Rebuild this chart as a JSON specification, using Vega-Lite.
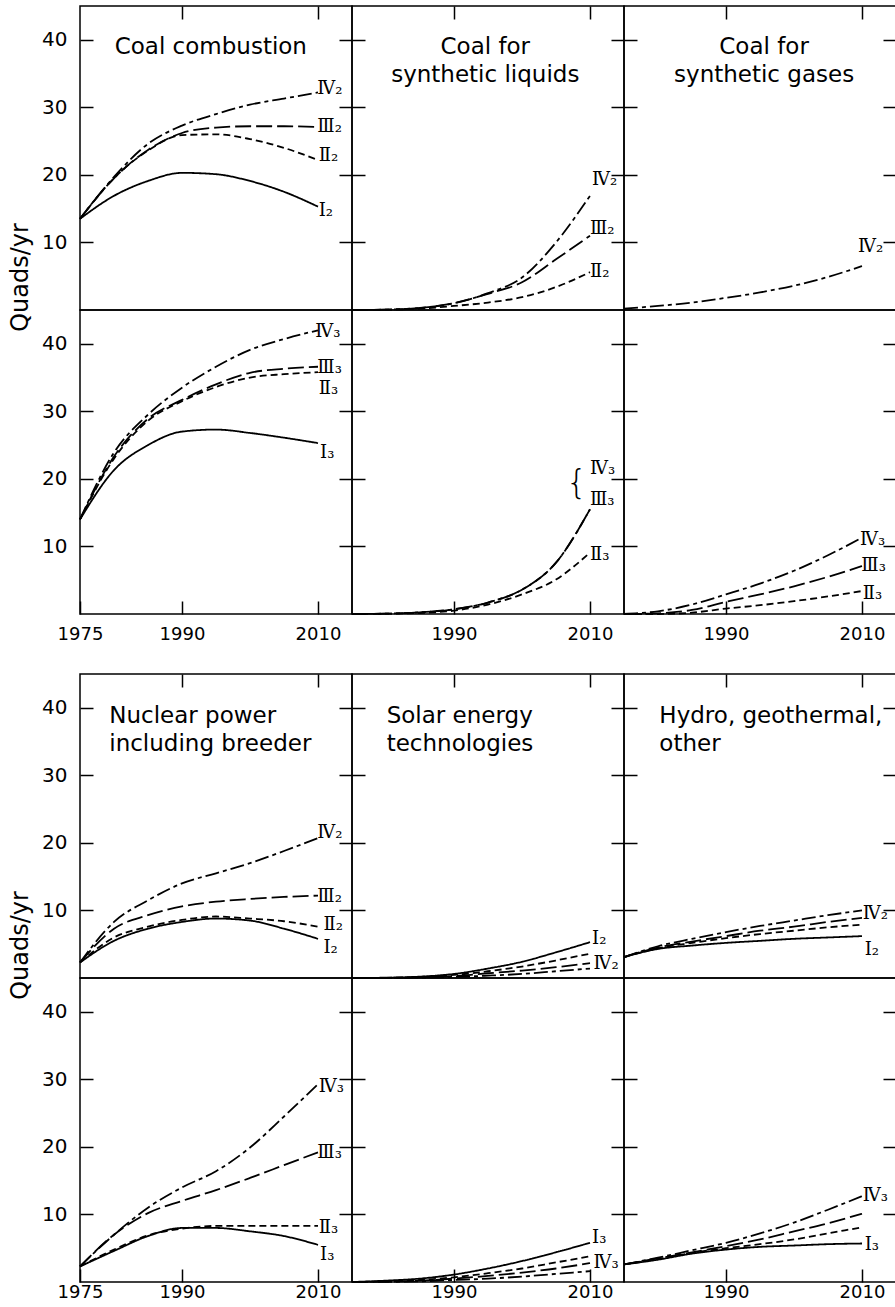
{
"$schema": "https://vega.github.io/schema/vega-lite/v6.json",
"padding": {"left": 7, "top": 4, "right": 0, "bottom": 0},
"config": {
 "font": "DejaVu Sans",
 "view": {"stroke": "black", "strokeWidth": 1.5},
 "axis": {"domain": false, "grid": false, "tickColor": "black", "tickWidth": 1.5, "tickSize": -13, "labelColor": "black", "labelFont": "DejaVu Sans", "labels": false, "title": null},
 "axisX": {"labelPadding": 24, "labelFontSize": 18, "labelFlush": false},
 "axisY": {"labelPadding": 26, "labelFontSize": 20},
 "line": {"interpolate": "monotone", "strokeWidth": 1.8, "color": "black"},
 "style": {
  "lab": {"align": "left", "baseline": "middle", "font": "DejaVu Serif", "fontSize": 18, "fill": "black"},
  "ttl": {"align": "left", "baseline": "alphabetic", "font": "DejaVu Sans", "fontSize": 23, "lineBreak": "\n", "lineHeight": 28, "fill": "black"},
  "ttc": {"align": "center", "baseline": "alphabetic", "font": "DejaVu Sans", "fontSize": 23, "lineBreak": "\n", "lineHeight": 28, "fill": "black"},
  "brc": {"align": "right", "baseline": "middle", "font": "DejaVu Sans", "fontSize": 34, "fontWeight": 200, "fill": "black"}
 }
},
"datasets": {"d": [
{"p":"cc","s":2,"c":"I","x":1975,"y":13.5},{"p":"cc","s":2,"c":"I","x":1980,"y":16.9},{"p":"cc","s":2,"c":"I","x":1985,"y":19.1},{"p":"cc","s":2,"c":"I","x":1990,"y":20.3},{"p":"cc","s":2,"c":"I","x":1995,"y":20.1},{"p":"cc","s":2,"c":"I","x":2000,"y":19.1},{"p":"cc","s":2,"c":"I","x":2005,"y":17.5},{"p":"cc","s":2,"c":"I","x":2010,"y":15.3},
{"p":"cc","s":2,"c":"II","x":1975,"y":13.5},{"p":"cc","s":2,"c":"II","x":1980,"y":19.5},{"p":"cc","s":2,"c":"II","x":1985,"y":23.6},{"p":"cc","s":2,"c":"II","x":1990,"y":25.9},{"p":"cc","s":2,"c":"II","x":1995,"y":26.0},{"p":"cc","s":2,"c":"II","x":2000,"y":25.3},{"p":"cc","s":2,"c":"II","x":2005,"y":24.0},{"p":"cc","s":2,"c":"II","x":2010,"y":22.2},
{"p":"cc","s":2,"c":"III","x":1975,"y":13.5},{"p":"cc","s":2,"c":"III","x":1980,"y":19.5},{"p":"cc","s":2,"c":"III","x":1985,"y":23.7},{"p":"cc","s":2,"c":"III","x":1990,"y":26.2},{"p":"cc","s":2,"c":"III","x":1995,"y":27.0},{"p":"cc","s":2,"c":"III","x":2000,"y":27.2},{"p":"cc","s":2,"c":"III","x":2005,"y":27.2},{"p":"cc","s":2,"c":"III","x":2010,"y":27.1},
{"p":"cc","s":2,"c":"IV","x":1975,"y":13.5},{"p":"cc","s":2,"c":"IV","x":1980,"y":19.7},{"p":"cc","s":2,"c":"IV","x":1985,"y":24.6},{"p":"cc","s":2,"c":"IV","x":1990,"y":27.3},{"p":"cc","s":2,"c":"IV","x":1995,"y":29.0},{"p":"cc","s":2,"c":"IV","x":2000,"y":30.4},{"p":"cc","s":2,"c":"IV","x":2005,"y":31.3},{"p":"cc","s":2,"c":"IV","x":2010,"y":32.2},
{"p":"cc","s":3,"c":"I","x":1975,"y":14},{"p":"cc","s":3,"c":"I","x":1980,"y":21.3},{"p":"cc","s":3,"c":"I","x":1985,"y":25.0},{"p":"cc","s":3,"c":"I","x":1990,"y":27.0},{"p":"cc","s":3,"c":"I","x":1995,"y":27.3},{"p":"cc","s":3,"c":"I","x":2000,"y":26.8},{"p":"cc","s":3,"c":"I","x":2005,"y":26.1},{"p":"cc","s":3,"c":"I","x":2010,"y":25.3},
{"p":"cc","s":3,"c":"II","x":1975,"y":14},{"p":"cc","s":3,"c":"II","x":1980,"y":23.0},{"p":"cc","s":3,"c":"II","x":1985,"y":28.6},{"p":"cc","s":3,"c":"II","x":1990,"y":31.5},{"p":"cc","s":3,"c":"II","x":1995,"y":33.6},{"p":"cc","s":3,"c":"II","x":2000,"y":35.0},{"p":"cc","s":3,"c":"II","x":2005,"y":35.5},{"p":"cc","s":3,"c":"II","x":2010,"y":35.8},
{"p":"cc","s":3,"c":"III","x":1975,"y":14},{"p":"cc","s":3,"c":"III","x":1980,"y":23.3},{"p":"cc","s":3,"c":"III","x":1985,"y":28.9},{"p":"cc","s":3,"c":"III","x":1990,"y":31.7},{"p":"cc","s":3,"c":"III","x":1995,"y":34.0},{"p":"cc","s":3,"c":"III","x":2000,"y":35.7},{"p":"cc","s":3,"c":"III","x":2005,"y":36.3},{"p":"cc","s":3,"c":"III","x":2010,"y":36.6},
{"p":"cc","s":3,"c":"IV","x":1975,"y":14},{"p":"cc","s":3,"c":"IV","x":1980,"y":23.9},{"p":"cc","s":3,"c":"IV","x":1985,"y":29.5},{"p":"cc","s":3,"c":"IV","x":1990,"y":33.5},{"p":"cc","s":3,"c":"IV","x":1995,"y":36.6},{"p":"cc","s":3,"c":"IV","x":2000,"y":39.1},{"p":"cc","s":3,"c":"IV","x":2005,"y":40.7},{"p":"cc","s":3,"c":"IV","x":2010,"y":42.0},
{"p":"sl","s":2,"c":"II","x":1975,"y":0},{"p":"sl","s":2,"c":"II","x":1980,"y":0.05},{"p":"sl","s":2,"c":"II","x":1985,"y":0.2},{"p":"sl","s":2,"c":"II","x":1990,"y":0.6},{"p":"sl","s":2,"c":"II","x":1995,"y":1.1},{"p":"sl","s":2,"c":"II","x":2000,"y":1.9},{"p":"sl","s":2,"c":"II","x":2005,"y":3.4},{"p":"sl","s":2,"c":"II","x":2010,"y":5.6},
{"p":"sl","s":2,"c":"III","x":1975,"y":0},{"p":"sl","s":2,"c":"III","x":1980,"y":0.05},{"p":"sl","s":2,"c":"III","x":1985,"y":0.3},{"p":"sl","s":2,"c":"III","x":1990,"y":1.0},{"p":"sl","s":2,"c":"III","x":1995,"y":2.4},{"p":"sl","s":2,"c":"III","x":2000,"y":4.1},{"p":"sl","s":2,"c":"III","x":2005,"y":7.5},{"p":"sl","s":2,"c":"III","x":2010,"y":11.0},
{"p":"sl","s":2,"c":"IV","x":1975,"y":0},{"p":"sl","s":2,"c":"IV","x":1980,"y":0.05},{"p":"sl","s":2,"c":"IV","x":1985,"y":0.3},{"p":"sl","s":2,"c":"IV","x":1990,"y":1.0},{"p":"sl","s":2,"c":"IV","x":1995,"y":2.5},{"p":"sl","s":2,"c":"IV","x":2000,"y":4.8},{"p":"sl","s":2,"c":"IV","x":2005,"y":10.0},{"p":"sl","s":2,"c":"IV","x":2010,"y":16.9},
{"p":"sl","s":3,"c":"II","x":1975,"y":0},{"p":"sl","s":3,"c":"II","x":1980,"y":0.05},{"p":"sl","s":3,"c":"II","x":1985,"y":0.15},{"p":"sl","s":3,"c":"II","x":1990,"y":0.5},{"p":"sl","s":3,"c":"II","x":1995,"y":1.4},{"p":"sl","s":3,"c":"II","x":2000,"y":2.9},{"p":"sl","s":3,"c":"II","x":2005,"y":5.1},{"p":"sl","s":3,"c":"II","x":2010,"y":9.1},
{"p":"sl","s":3,"c":"III","x":1975,"y":0},{"p":"sl","s":3,"c":"III","x":1980,"y":0.05},{"p":"sl","s":3,"c":"III","x":1985,"y":0.25},{"p":"sl","s":3,"c":"III","x":1990,"y":0.7},{"p":"sl","s":3,"c":"III","x":1995,"y":1.7},{"p":"sl","s":3,"c":"III","x":2000,"y":3.6},{"p":"sl","s":3,"c":"III","x":2005,"y":7.6},{"p":"sl","s":3,"c":"III","x":2010,"y":15.5},
{"p":"sl","s":3,"c":"IV","x":1975,"y":0},{"p":"sl","s":3,"c":"IV","x":1980,"y":0.05},{"p":"sl","s":3,"c":"IV","x":1985,"y":0.25},{"p":"sl","s":3,"c":"IV","x":1990,"y":0.7},{"p":"sl","s":3,"c":"IV","x":1995,"y":1.7},{"p":"sl","s":3,"c":"IV","x":2000,"y":3.6},{"p":"sl","s":3,"c":"IV","x":2005,"y":7.6},{"p":"sl","s":3,"c":"IV","x":2010,"y":15.5},
{"p":"sg","s":2,"c":"IV","x":1975,"y":0.2},{"p":"sg","s":2,"c":"IV","x":1980,"y":0.6},{"p":"sg","s":2,"c":"IV","x":1985,"y":1.1},{"p":"sg","s":2,"c":"IV","x":1990,"y":1.8},{"p":"sg","s":2,"c":"IV","x":1995,"y":2.6},{"p":"sg","s":2,"c":"IV","x":2000,"y":3.6},{"p":"sg","s":2,"c":"IV","x":2005,"y":4.9},{"p":"sg","s":2,"c":"IV","x":2010,"y":6.5},
{"p":"sg","s":3,"c":"II","x":1975,"y":0},{"p":"sg","s":3,"c":"II","x":1980,"y":0},{"p":"sg","s":3,"c":"II","x":1985,"y":0.2},{"p":"sg","s":3,"c":"II","x":1990,"y":0.8},{"p":"sg","s":3,"c":"II","x":1995,"y":1.3},{"p":"sg","s":3,"c":"II","x":2000,"y":1.9},{"p":"sg","s":3,"c":"II","x":2005,"y":2.6},{"p":"sg","s":3,"c":"II","x":2010,"y":3.4},
{"p":"sg","s":3,"c":"III","x":1975,"y":0},{"p":"sg","s":3,"c":"III","x":1980,"y":0.1},{"p":"sg","s":3,"c":"III","x":1985,"y":0.6},{"p":"sg","s":3,"c":"III","x":1990,"y":1.8},{"p":"sg","s":3,"c":"III","x":1995,"y":2.9},{"p":"sg","s":3,"c":"III","x":2000,"y":4.1},{"p":"sg","s":3,"c":"III","x":2005,"y":5.5},{"p":"sg","s":3,"c":"III","x":2010,"y":7.1},
{"p":"sg","s":3,"c":"IV","x":1975,"y":0},{"p":"sg","s":3,"c":"IV","x":1980,"y":0.4},{"p":"sg","s":3,"c":"IV","x":1985,"y":1.4},{"p":"sg","s":3,"c":"IV","x":1990,"y":2.9},{"p":"sg","s":3,"c":"IV","x":1995,"y":4.5},{"p":"sg","s":3,"c":"IV","x":2000,"y":6.4},{"p":"sg","s":3,"c":"IV","x":2005,"y":8.7},{"p":"sg","s":3,"c":"IV","x":2010,"y":11.3},
{"p":"nu","s":2,"c":"I","x":1975,"y":2.3},{"p":"nu","s":2,"c":"I","x":1980,"y":5.5},{"p":"nu","s":2,"c":"I","x":1985,"y":7.3},{"p":"nu","s":2,"c":"I","x":1990,"y":8.3},{"p":"nu","s":2,"c":"I","x":1995,"y":8.8},{"p":"nu","s":2,"c":"I","x":2000,"y":8.5},{"p":"nu","s":2,"c":"I","x":2005,"y":7.3},{"p":"nu","s":2,"c":"I","x":2010,"y":5.8},
{"p":"nu","s":2,"c":"II","x":1975,"y":2.3},{"p":"nu","s":2,"c":"II","x":1980,"y":6.0},{"p":"nu","s":2,"c":"II","x":1985,"y":7.6},{"p":"nu","s":2,"c":"II","x":1990,"y":8.6},{"p":"nu","s":2,"c":"II","x":1995,"y":9.1},{"p":"nu","s":2,"c":"II","x":2000,"y":8.8},{"p":"nu","s":2,"c":"II","x":2005,"y":8.4},{"p":"nu","s":2,"c":"II","x":2010,"y":7.6},
{"p":"nu","s":2,"c":"III","x":1975,"y":2.3},{"p":"nu","s":2,"c":"III","x":1980,"y":7.3},{"p":"nu","s":2,"c":"III","x":1985,"y":9.3},{"p":"nu","s":2,"c":"III","x":1990,"y":10.6},{"p":"nu","s":2,"c":"III","x":1995,"y":11.3},{"p":"nu","s":2,"c":"III","x":2000,"y":11.7},{"p":"nu","s":2,"c":"III","x":2005,"y":12.0},{"p":"nu","s":2,"c":"III","x":2010,"y":12.2},
{"p":"nu","s":2,"c":"IV","x":1975,"y":2.3},{"p":"nu","s":2,"c":"IV","x":1980,"y":8.3},{"p":"nu","s":2,"c":"IV","x":1985,"y":11.5},{"p":"nu","s":2,"c":"IV","x":1990,"y":14.0},{"p":"nu","s":2,"c":"IV","x":1995,"y":15.5},{"p":"nu","s":2,"c":"IV","x":2000,"y":17.0},{"p":"nu","s":2,"c":"IV","x":2005,"y":18.8},{"p":"nu","s":2,"c":"IV","x":2010,"y":20.7},
{"p":"nu","s":3,"c":"I","x":1975,"y":2.3},{"p":"nu","s":3,"c":"I","x":1980,"y":4.6},{"p":"nu","s":3,"c":"I","x":1985,"y":6.8},{"p":"nu","s":3,"c":"I","x":1990,"y":8.0},{"p":"nu","s":3,"c":"I","x":1995,"y":8.0},{"p":"nu","s":3,"c":"I","x":2000,"y":7.5},{"p":"nu","s":3,"c":"I","x":2005,"y":6.8},{"p":"nu","s":3,"c":"I","x":2010,"y":5.5},
{"p":"nu","s":3,"c":"II","x":1975,"y":2.3},{"p":"nu","s":3,"c":"II","x":1980,"y":4.8},{"p":"nu","s":3,"c":"II","x":1985,"y":6.9},{"p":"nu","s":3,"c":"II","x":1990,"y":7.9},{"p":"nu","s":3,"c":"II","x":1995,"y":8.3},{"p":"nu","s":3,"c":"II","x":2000,"y":8.3},{"p":"nu","s":3,"c":"II","x":2005,"y":8.3},{"p":"nu","s":3,"c":"II","x":2010,"y":8.3},
{"p":"nu","s":3,"c":"III","x":1975,"y":2.3},{"p":"nu","s":3,"c":"III","x":1980,"y":7.0},{"p":"nu","s":3,"c":"III","x":1985,"y":10.2},{"p":"nu","s":3,"c":"III","x":1990,"y":12.0},{"p":"nu","s":3,"c":"III","x":1995,"y":13.6},{"p":"nu","s":3,"c":"III","x":2000,"y":15.4},{"p":"nu","s":3,"c":"III","x":2005,"y":17.3},{"p":"nu","s":3,"c":"III","x":2010,"y":19.2},
{"p":"nu","s":3,"c":"IV","x":1975,"y":2.3},{"p":"nu","s":3,"c":"IV","x":1980,"y":7.0},{"p":"nu","s":3,"c":"IV","x":1985,"y":11.0},{"p":"nu","s":3,"c":"IV","x":1990,"y":14.0},{"p":"nu","s":3,"c":"IV","x":1995,"y":16.4},{"p":"nu","s":3,"c":"IV","x":2000,"y":19.9},{"p":"nu","s":3,"c":"IV","x":2005,"y":24.5},{"p":"nu","s":3,"c":"IV","x":2010,"y":29.3},
{"p":"so","s":2,"c":"I","x":1975,"y":0},{"p":"so","s":2,"c":"I","x":1980,"y":0.05},{"p":"so","s":2,"c":"I","x":1985,"y":0.2},{"p":"so","s":2,"c":"I","x":1990,"y":0.6},{"p":"so","s":2,"c":"I","x":1995,"y":1.4},{"p":"so","s":2,"c":"I","x":2000,"y":2.4},{"p":"so","s":2,"c":"I","x":2005,"y":3.8},{"p":"so","s":2,"c":"I","x":2010,"y":5.3},
{"p":"so","s":2,"c":"II","x":1975,"y":0},{"p":"so","s":2,"c":"II","x":1980,"y":0.03},{"p":"so","s":2,"c":"II","x":1985,"y":0.15},{"p":"so","s":2,"c":"II","x":1990,"y":0.45},{"p":"so","s":2,"c":"II","x":1995,"y":1.0},{"p":"so","s":2,"c":"II","x":2000,"y":1.7},{"p":"so","s":2,"c":"II","x":2005,"y":2.6},{"p":"so","s":2,"c":"II","x":2010,"y":3.6},
{"p":"so","s":2,"c":"III","x":1975,"y":0},{"p":"so","s":2,"c":"III","x":1980,"y":0.02},{"p":"so","s":2,"c":"III","x":1985,"y":0.1},{"p":"so","s":2,"c":"III","x":1990,"y":0.3},{"p":"so","s":2,"c":"III","x":1995,"y":0.7},{"p":"so","s":2,"c":"III","x":2000,"y":1.1},{"p":"so","s":2,"c":"III","x":2005,"y":1.6},{"p":"so","s":2,"c":"III","x":2010,"y":2.2},
{"p":"so","s":2,"c":"IV","x":1975,"y":0},{"p":"so","s":2,"c":"IV","x":1980,"y":0.01},{"p":"so","s":2,"c":"IV","x":1985,"y":0.05},{"p":"so","s":2,"c":"IV","x":1990,"y":0.15},{"p":"so","s":2,"c":"IV","x":1995,"y":0.35},{"p":"so","s":2,"c":"IV","x":2000,"y":0.6},{"p":"so","s":2,"c":"IV","x":2005,"y":1.0},{"p":"so","s":2,"c":"IV","x":2010,"y":1.4},
{"p":"so","s":3,"c":"I","x":1975,"y":0},{"p":"so","s":3,"c":"I","x":1980,"y":0.2},{"p":"so","s":3,"c":"I","x":1985,"y":0.5},{"p":"so","s":3,"c":"I","x":1990,"y":1.1},{"p":"so","s":3,"c":"I","x":1995,"y":2.0},{"p":"so","s":3,"c":"I","x":2000,"y":3.1},{"p":"so","s":3,"c":"I","x":2005,"y":4.4},{"p":"so","s":3,"c":"I","x":2010,"y":5.8},
{"p":"so","s":3,"c":"II","x":1975,"y":0},{"p":"so","s":3,"c":"II","x":1980,"y":0.1},{"p":"so","s":3,"c":"II","x":1985,"y":0.3},{"p":"so","s":3,"c":"II","x":1990,"y":0.7},{"p":"so","s":3,"c":"II","x":1995,"y":1.3},{"p":"so","s":3,"c":"II","x":2000,"y":2.0},{"p":"so","s":3,"c":"II","x":2005,"y":2.9},{"p":"so","s":3,"c":"II","x":2010,"y":3.8},
{"p":"so","s":3,"c":"III","x":1975,"y":0},{"p":"so","s":3,"c":"III","x":1980,"y":0.05},{"p":"so","s":3,"c":"III","x":1985,"y":0.2},{"p":"so","s":3,"c":"III","x":1990,"y":0.5},{"p":"so","s":3,"c":"III","x":1995,"y":0.9},{"p":"so","s":3,"c":"III","x":2000,"y":1.4},{"p":"so","s":3,"c":"III","x":2005,"y":2.0},{"p":"so","s":3,"c":"III","x":2010,"y":2.8},
{"p":"so","s":3,"c":"IV","x":1975,"y":0},{"p":"so","s":3,"c":"IV","x":1980,"y":0.02},{"p":"so","s":3,"c":"IV","x":1985,"y":0.1},{"p":"so","s":3,"c":"IV","x":1990,"y":0.3},{"p":"so","s":3,"c":"IV","x":1995,"y":0.5},{"p":"so","s":3,"c":"IV","x":2000,"y":0.8},{"p":"so","s":3,"c":"IV","x":2005,"y":1.2},{"p":"so","s":3,"c":"IV","x":2010,"y":1.6},
{"p":"hy","s":2,"c":"I","x":1975,"y":3.1},{"p":"hy","s":2,"c":"I","x":1980,"y":4.3},{"p":"hy","s":2,"c":"I","x":1985,"y":4.8},{"p":"hy","s":2,"c":"I","x":1990,"y":5.2},{"p":"hy","s":2,"c":"I","x":1995,"y":5.5},{"p":"hy","s":2,"c":"I","x":2000,"y":5.8},{"p":"hy","s":2,"c":"I","x":2005,"y":6.0},{"p":"hy","s":2,"c":"I","x":2010,"y":6.2},
{"p":"hy","s":2,"c":"II","x":1975,"y":3.1},{"p":"hy","s":2,"c":"II","x":1980,"y":4.4},{"p":"hy","s":2,"c":"II","x":1985,"y":5.2},{"p":"hy","s":2,"c":"II","x":1990,"y":5.9},{"p":"hy","s":2,"c":"II","x":1995,"y":6.5},{"p":"hy","s":2,"c":"II","x":2000,"y":7.0},{"p":"hy","s":2,"c":"II","x":2005,"y":7.5},{"p":"hy","s":2,"c":"II","x":2010,"y":7.9},
{"p":"hy","s":2,"c":"III","x":1975,"y":3.1},{"p":"hy","s":2,"c":"III","x":1980,"y":4.5},{"p":"hy","s":2,"c":"III","x":1985,"y":5.4},{"p":"hy","s":2,"c":"III","x":1990,"y":6.2},{"p":"hy","s":2,"c":"III","x":1995,"y":7.0},{"p":"hy","s":2,"c":"III","x":2000,"y":7.6},{"p":"hy","s":2,"c":"III","x":2005,"y":8.3},{"p":"hy","s":2,"c":"III","x":2010,"y":8.9},
{"p":"hy","s":2,"c":"IV","x":1975,"y":3.1},{"p":"hy","s":2,"c":"IV","x":1980,"y":4.7},{"p":"hy","s":2,"c":"IV","x":1985,"y":5.8},{"p":"hy","s":2,"c":"IV","x":1990,"y":6.8},{"p":"hy","s":2,"c":"IV","x":1995,"y":7.7},{"p":"hy","s":2,"c":"IV","x":2000,"y":8.5},{"p":"hy","s":2,"c":"IV","x":2005,"y":9.3},{"p":"hy","s":2,"c":"IV","x":2010,"y":10.0},
{"p":"hy","s":3,"c":"I","x":1975,"y":2.6},{"p":"hy","s":3,"c":"I","x":1980,"y":3.3},{"p":"hy","s":3,"c":"I","x":1985,"y":4.2},{"p":"hy","s":3,"c":"I","x":1990,"y":4.8},{"p":"hy","s":3,"c":"I","x":1995,"y":5.2},{"p":"hy","s":3,"c":"I","x":2000,"y":5.4},{"p":"hy","s":3,"c":"I","x":2005,"y":5.6},{"p":"hy","s":3,"c":"I","x":2010,"y":5.7},
{"p":"hy","s":3,"c":"II","x":1975,"y":2.6},{"p":"hy","s":3,"c":"II","x":1980,"y":3.4},{"p":"hy","s":3,"c":"II","x":1985,"y":4.3},{"p":"hy","s":3,"c":"II","x":1990,"y":5.0},{"p":"hy","s":3,"c":"II","x":1995,"y":5.6},{"p":"hy","s":3,"c":"II","x":2000,"y":6.3},{"p":"hy","s":3,"c":"II","x":2005,"y":7.2},{"p":"hy","s":3,"c":"II","x":2010,"y":8.1},
{"p":"hy","s":3,"c":"III","x":1975,"y":2.6},{"p":"hy","s":3,"c":"III","x":1980,"y":3.5},{"p":"hy","s":3,"c":"III","x":1985,"y":4.4},{"p":"hy","s":3,"c":"III","x":1990,"y":5.3},{"p":"hy","s":3,"c":"III","x":1995,"y":6.3},{"p":"hy","s":3,"c":"III","x":2000,"y":7.5},{"p":"hy","s":3,"c":"III","x":2005,"y":8.7},{"p":"hy","s":3,"c":"III","x":2010,"y":10.1},
{"p":"hy","s":3,"c":"IV","x":1975,"y":2.6},{"p":"hy","s":3,"c":"IV","x":1980,"y":3.6},{"p":"hy","s":3,"c":"IV","x":1985,"y":4.7},{"p":"hy","s":3,"c":"IV","x":1990,"y":5.8},{"p":"hy","s":3,"c":"IV","x":1995,"y":7.2},{"p":"hy","s":3,"c":"IV","x":2000,"y":8.8},{"p":"hy","s":3,"c":"IV","x":2005,"y":10.7},{"p":"hy","s":3,"c":"IV","x":2010,"y":12.7},
{"p":"cc","s":2,"t":"Ⅳ₂","x":2009.9,"y":32.7},{"p":"cc","s":2,"t":"Ⅲ₂","x":2009.9,"y":27.1},{"p":"cc","s":2,"t":"Ⅱ₂","x":2010.1,"y":22.8},{"p":"cc","s":2,"t":"Ⅰ₂","x":2010.1,"y":14.7},
{"p":"cc","s":3,"t":"Ⅳ₃","x":2009.6,"y":41.8},{"p":"cc","s":3,"t":"Ⅲ₃","x":2009.9,"y":36.4},{"p":"cc","s":3,"t":"Ⅱ₃","x":2010.1,"y":33.3},{"p":"cc","s":3,"t":"Ⅰ₃","x":2010.3,"y":23.8},
{"p":"sl","s":2,"t":"Ⅳ₂","x":2010.3,"y":19.2},{"p":"sl","s":2,"t":"Ⅲ₂","x":2010.0,"y":12.0},{"p":"sl","s":2,"t":"Ⅱ₂","x":2010.0,"y":5.6},
{"p":"sl","s":3,"b":"{","x":2009.6,"y":19.2},{"p":"sl","s":3,"t":"Ⅳ₃","x":2010.0,"y":21.4},{"p":"sl","s":3,"t":"Ⅲ₃","x":2010.0,"y":16.9},{"p":"sl","s":3,"t":"Ⅱ₃","x":2010.0,"y":8.8},
{"p":"sg","s":2,"t":"Ⅳ₂","x":2009.4,"y":9.3},
{"p":"sg","s":3,"t":"Ⅳ₃","x":2009.7,"y":11.0},{"p":"sg","s":3,"t":"Ⅲ₃","x":2009.9,"y":7.1},{"p":"sg","s":3,"t":"Ⅱ₃","x":2010.1,"y":2.9},
{"p":"nu","s":2,"t":"Ⅳ₂","x":2009.9,"y":21.4},{"p":"nu","s":2,"t":"Ⅲ₂","x":2009.9,"y":12.0},{"p":"nu","s":2,"t":"Ⅱ₂","x":2010.8,"y":7.8},{"p":"nu","s":2,"t":"Ⅰ₂","x":2010.8,"y":4.5},
{"p":"nu","s":3,"t":"Ⅳ₃","x":2010.1,"y":28.8},{"p":"nu","s":3,"t":"Ⅲ₃","x":2009.9,"y":19.1},{"p":"nu","s":3,"t":"Ⅱ₃","x":2010.1,"y":8.0},{"p":"nu","s":3,"t":"Ⅰ₃","x":2010.3,"y":4.0},
{"p":"so","s":2,"t":"Ⅰ₂","x":2010.3,"y":5.8},{"p":"so","s":2,"t":"Ⅳ₂","x":2010.5,"y":2.1},
{"p":"so","s":3,"t":"Ⅰ₃","x":2010.3,"y":6.5},{"p":"so","s":3,"t":"Ⅳ₃","x":2010.5,"y":2.8},
{"p":"hy","s":2,"t":"Ⅳ₂","x":2010.1,"y":9.5},{"p":"hy","s":2,"t":"Ⅰ₂","x":2010.4,"y":4.1},
{"p":"hy","s":3,"t":"Ⅳ₃","x":2010.1,"y":12.7},{"p":"hy","s":3,"t":"Ⅰ₃","x":2010.4,"y":5.5},
{"p":"cc","s":2,"ti":"Coal combustion","x":1980.1,"y":37.9},
{"p":"sl","s":2,"ti":"Coal for\nsynthetic liquids","x":1994.6,"y":37.9},
{"p":"sg","s":2,"ti":"Coal for\nsynthetic gases","x":1995.6,"y":37.9},
{"p":"nu","s":2,"ti":"Nuclear power\nincluding breeder","x":1979.3,"y":37.7},
{"p":"so","s":2,"ti":"Solar energy\ntechnologies","x":1980.1,"y":37.7},
{"p":"hy","s":2,"ti":"Hydro, geothermal,\nother","x":1980.2,"y":37.7}
]},
"data": {"name": "d"},
"vconcat": [
{"columns": 3, "spacing": 0, "bounds": "flush", "concat": [
 {"width": 272, "height": 304, "transform": [{"filter": "datum.p=='cc'&&datum.s==2"}], "layer": [
  {"transform": [{"filter": "datum.c"}], "mark": "line", "encoding": {
   "x": {"field": "x", "type": "quantitative", "scale": {"domain": [1975, 2015], "nice": false}, "axis": {"orient": "top", "values": [1990, 2010]}},
   "y": {"field": "y", "type": "quantitative", "scale": {"domain": [0, 45], "nice": false}, "axis": {"orient": "left", "values": [10, 20, 30, 40], "labels": true, "title": "Quads/yr", "titleX": -60, "titleY": 271, "titleAngle": 270, "titleAlign": "center", "titleBaseline": "middle", "titleFont": "DejaVu Sans", "titleFontSize": 24, "titleFontWeight": "normal", "titleColor": "black"}},
   "strokeDash": {"field": "c", "type": "nominal", "scale": {"domain": ["I", "II", "III", "IV"], "range": [[1, 0], [7, 4], [16, 5], [14, 4, 4, 4]]}, "legend": null}}},
  {"transform": [{"filter": "datum.t"}], "mark": {"type": "text", "style": "lab"}, "encoding": {"x": {"field": "x", "type": "quantitative", "axis": null}, "y": {"field": "y", "type": "quantitative", "axis": {"orient": "right", "values": [10, 20, 30, 40]}}, "text": {"field": "t"}}},
  {"transform": [{"filter": "datum.ti"}], "mark": {"type": "text", "style": "ttl"}, "encoding": {"x": {"field": "x", "type": "quantitative", "axis": null}, "y": {"field": "y", "type": "quantitative", "axis": null}, "text": {"field": "ti"}}}
 ], "resolve": {"axis": {"x": "independent", "y": "independent"}}},
 {"width": 272, "height": 304, "transform": [{"filter": "datum.p=='sl'&&datum.s==2"}], "layer": [
  {"transform": [{"filter": "datum.c"}], "mark": "line", "encoding": {
   "x": {"field": "x", "type": "quantitative", "scale": {"domain": [1975, 2015], "nice": false}, "axis": {"orient": "top", "values": [1990, 2010]}},
   "y": {"field": "y", "type": "quantitative", "scale": {"domain": [0, 45], "nice": false}, "axis": {"orient": "left", "values": [10, 20, 30, 40]}},
   "strokeDash": {"field": "c", "type": "nominal", "scale": {"domain": ["I", "II", "III", "IV"], "range": [[1, 0], [7, 4], [16, 5], [14, 4, 4, 4]]}, "legend": null}}},
  {"transform": [{"filter": "datum.t"}], "mark": {"type": "text", "style": "lab"}, "encoding": {"x": {"field": "x", "type": "quantitative", "axis": null}, "y": {"field": "y", "type": "quantitative", "axis": {"orient": "right", "values": [10, 20, 30, 40]}}, "text": {"field": "t"}}},
  {"transform": [{"filter": "datum.ti"}], "mark": {"type": "text", "style": "ttc"}, "encoding": {"x": {"field": "x", "type": "quantitative", "axis": null}, "y": {"field": "y", "type": "quantitative", "axis": null}, "text": {"field": "ti"}}}
 ], "resolve": {"axis": {"x": "independent", "y": "independent"}}},
 {"width": 272, "height": 304, "transform": [{"filter": "datum.p=='sg'&&datum.s==2"}], "layer": [
  {"transform": [{"filter": "datum.c"}], "mark": "line", "encoding": {
   "x": {"field": "x", "type": "quantitative", "scale": {"domain": [1975, 2015], "nice": false}, "axis": {"orient": "top", "values": [1990, 2010]}},
   "y": {"field": "y", "type": "quantitative", "scale": {"domain": [0, 45], "nice": false}, "axis": {"orient": "left", "values": [10, 20, 30, 40]}},
   "strokeDash": {"field": "c", "type": "nominal", "scale": {"domain": ["I", "II", "III", "IV"], "range": [[1, 0], [7, 4], [16, 5], [14, 4, 4, 4]]}, "legend": null}}},
  {"transform": [{"filter": "datum.t"}], "mark": {"type": "text", "style": "lab"}, "encoding": {"x": {"field": "x", "type": "quantitative", "axis": null}, "y": {"field": "y", "type": "quantitative", "axis": {"orient": "right", "values": [10, 20, 30, 40]}}, "text": {"field": "t"}}},
  {"transform": [{"filter": "datum.ti"}], "mark": {"type": "text", "style": "ttc"}, "encoding": {"x": {"field": "x", "type": "quantitative", "axis": null}, "y": {"field": "y", "type": "quantitative", "axis": null}, "text": {"field": "ti"}}}
 ], "resolve": {"axis": {"x": "independent", "y": "independent"}}},
 {"width": 272, "height": 304, "transform": [{"filter": "datum.p=='cc'&&datum.s==3"}], "layer": [
  {"transform": [{"filter": "datum.c"}], "mark": "line", "encoding": {
   "x": {"field": "x", "type": "quantitative", "scale": {"domain": [1975, 2015], "nice": false}, "axis": {"orient": "bottom", "values": [1975, 1990, 2010], "labels": true, "format": "d"}},
   "y": {"field": "y", "type": "quantitative", "scale": {"domain": [0, 45], "nice": false}, "axis": {"orient": "left", "values": [10, 20, 30, 40], "labels": true}},
   "strokeDash": {"field": "c", "type": "nominal", "scale": {"domain": ["I", "II", "III", "IV"], "range": [[1, 0], [7, 4], [16, 5], [14, 4, 4, 4]]}, "legend": null}}},
  {"transform": [{"filter": "datum.t"}], "mark": {"type": "text", "style": "lab"}, "encoding": {"x": {"field": "x", "type": "quantitative", "axis": null}, "y": {"field": "y", "type": "quantitative", "axis": {"orient": "right", "values": [10, 20, 30, 40]}}, "text": {"field": "t"}}}
 ], "resolve": {"axis": {"x": "independent", "y": "independent"}}},
 {"width": 272, "height": 304, "transform": [{"filter": "datum.p=='sl'&&datum.s==3"}], "layer": [
  {"transform": [{"filter": "datum.c"}], "mark": "line", "encoding": {
   "x": {"field": "x", "type": "quantitative", "scale": {"domain": [1975, 2015], "nice": false}, "axis": {"orient": "bottom", "values": [1990, 2010], "labels": true, "format": "d"}},
   "y": {"field": "y", "type": "quantitative", "scale": {"domain": [0, 45], "nice": false}, "axis": {"orient": "left", "values": [10, 20, 30, 40]}},
   "strokeDash": {"field": "c", "type": "nominal", "scale": {"domain": ["I", "II", "III", "IV"], "range": [[1, 0], [7, 4], [16, 5], [14, 4, 4, 4]]}, "legend": null}}},
  {"transform": [{"filter": "datum.t"}], "mark": {"type": "text", "style": "lab"}, "encoding": {"x": {"field": "x", "type": "quantitative", "axis": null}, "y": {"field": "y", "type": "quantitative", "axis": {"orient": "right", "values": [10, 20, 30, 40]}}, "text": {"field": "t"}}},
  {"transform": [{"filter": "datum.b"}], "mark": {"type": "text", "style": "brc"}, "encoding": {"x": {"field": "x", "type": "quantitative", "axis": null}, "y": {"field": "y", "type": "quantitative", "axis": null}, "text": {"field": "b"}}}
 ], "resolve": {"axis": {"x": "independent", "y": "independent"}}},
 {"width": 272, "height": 304, "transform": [{"filter": "datum.p=='sg'&&datum.s==3"}], "layer": [
  {"transform": [{"filter": "datum.c"}], "mark": "line", "encoding": {
   "x": {"field": "x", "type": "quantitative", "scale": {"domain": [1975, 2015], "nice": false}, "axis": {"orient": "bottom", "values": [1990, 2010], "labels": true, "format": "d"}},
   "y": {"field": "y", "type": "quantitative", "scale": {"domain": [0, 45], "nice": false}, "axis": {"orient": "left", "values": [10, 20, 30, 40]}},
   "strokeDash": {"field": "c", "type": "nominal", "scale": {"domain": ["I", "II", "III", "IV"], "range": [[1, 0], [7, 4], [16, 5], [14, 4, 4, 4]]}, "legend": null}}},
  {"transform": [{"filter": "datum.t"}], "mark": {"type": "text", "style": "lab"}, "encoding": {"x": {"field": "x", "type": "quantitative", "axis": null}, "y": {"field": "y", "type": "quantitative", "axis": {"orient": "right", "values": [10, 20, 30, 40]}}, "text": {"field": "t"}}}
 ], "resolve": {"axis": {"x": "independent", "y": "independent"}}}
]},
{"columns": 3, "spacing": 0, "bounds": "flush", "concat": [
 {"width": 272, "height": 304, "transform": [{"filter": "datum.p=='nu'&&datum.s==2"}], "layer": [
  {"transform": [{"filter": "datum.c"}], "mark": "line", "encoding": {
   "x": {"field": "x", "type": "quantitative", "scale": {"domain": [1975, 2015], "nice": false}, "axis": {"orient": "top", "values": [1990, 2010]}},
   "y": {"field": "y", "type": "quantitative", "scale": {"domain": [0, 45], "nice": false}, "axis": {"orient": "left", "values": [10, 20, 30, 40], "labels": true, "title": "Quads/yr", "titleX": -60, "titleY": 271, "titleAngle": 270, "titleAlign": "center", "titleBaseline": "middle", "titleFont": "DejaVu Sans", "titleFontSize": 24, "titleFontWeight": "normal", "titleColor": "black"}},
   "strokeDash": {"field": "c", "type": "nominal", "scale": {"domain": ["I", "II", "III", "IV"], "range": [[1, 0], [7, 4], [16, 5], [14, 4, 4, 4]]}, "legend": null}}},
  {"transform": [{"filter": "datum.t"}], "mark": {"type": "text", "style": "lab"}, "encoding": {"x": {"field": "x", "type": "quantitative", "axis": null}, "y": {"field": "y", "type": "quantitative", "axis": {"orient": "right", "values": [10, 20, 30, 40]}}, "text": {"field": "t"}}},
  {"transform": [{"filter": "datum.ti"}], "mark": {"type": "text", "style": "ttl"}, "encoding": {"x": {"field": "x", "type": "quantitative", "axis": null}, "y": {"field": "y", "type": "quantitative", "axis": null}, "text": {"field": "ti"}}}
 ], "resolve": {"axis": {"x": "independent", "y": "independent"}}},
 {"width": 272, "height": 304, "transform": [{"filter": "datum.p=='so'&&datum.s==2"}], "layer": [
  {"transform": [{"filter": "datum.c"}], "mark": "line", "encoding": {
   "x": {"field": "x", "type": "quantitative", "scale": {"domain": [1975, 2015], "nice": false}, "axis": {"orient": "top", "values": [1990, 2010]}},
   "y": {"field": "y", "type": "quantitative", "scale": {"domain": [0, 45], "nice": false}, "axis": {"orient": "left", "values": [10, 20, 30, 40]}},
   "strokeDash": {"field": "c", "type": "nominal", "scale": {"domain": ["I", "II", "III", "IV"], "range": [[1, 0], [7, 4], [16, 5], [14, 4, 4, 4]]}, "legend": null}}},
  {"transform": [{"filter": "datum.t"}], "mark": {"type": "text", "style": "lab"}, "encoding": {"x": {"field": "x", "type": "quantitative", "axis": null}, "y": {"field": "y", "type": "quantitative", "axis": {"orient": "right", "values": [10, 20, 30, 40]}}, "text": {"field": "t"}}},
  {"transform": [{"filter": "datum.ti"}], "mark": {"type": "text", "style": "ttl"}, "encoding": {"x": {"field": "x", "type": "quantitative", "axis": null}, "y": {"field": "y", "type": "quantitative", "axis": null}, "text": {"field": "ti"}}}
 ], "resolve": {"axis": {"x": "independent", "y": "independent"}}},
 {"width": 272, "height": 304, "transform": [{"filter": "datum.p=='hy'&&datum.s==2"}], "layer": [
  {"transform": [{"filter": "datum.c"}], "mark": "line", "encoding": {
   "x": {"field": "x", "type": "quantitative", "scale": {"domain": [1975, 2015], "nice": false}, "axis": {"orient": "top", "values": [1990, 2010]}},
   "y": {"field": "y", "type": "quantitative", "scale": {"domain": [0, 45], "nice": false}, "axis": {"orient": "left", "values": [10, 20, 30, 40]}},
   "strokeDash": {"field": "c", "type": "nominal", "scale": {"domain": ["I", "II", "III", "IV"], "range": [[1, 0], [7, 4], [16, 5], [14, 4, 4, 4]]}, "legend": null}}},
  {"transform": [{"filter": "datum.t"}], "mark": {"type": "text", "style": "lab"}, "encoding": {"x": {"field": "x", "type": "quantitative", "axis": null}, "y": {"field": "y", "type": "quantitative", "axis": {"orient": "right", "values": [10, 20, 30, 40]}}, "text": {"field": "t"}}},
  {"transform": [{"filter": "datum.ti"}], "mark": {"type": "text", "style": "ttl"}, "encoding": {"x": {"field": "x", "type": "quantitative", "axis": null}, "y": {"field": "y", "type": "quantitative", "axis": null}, "text": {"field": "ti"}}}
 ], "resolve": {"axis": {"x": "independent", "y": "independent"}}},
 {"width": 272, "height": 304, "transform": [{"filter": "datum.p=='nu'&&datum.s==3"}], "layer": [
  {"transform": [{"filter": "datum.c"}], "mark": "line", "encoding": {
   "x": {"field": "x", "type": "quantitative", "scale": {"domain": [1975, 2015], "nice": false}, "axis": {"orient": "bottom", "values": [1975, 1990, 2010], "labels": true, "format": "d", "labelPadding": 14}},
   "y": {"field": "y", "type": "quantitative", "scale": {"domain": [0, 45], "nice": false}, "axis": {"orient": "left", "values": [10, 20, 30, 40], "labels": true}},
   "strokeDash": {"field": "c", "type": "nominal", "scale": {"domain": ["I", "II", "III", "IV"], "range": [[1, 0], [7, 4], [16, 5], [14, 4, 4, 4]]}, "legend": null}}},
  {"transform": [{"filter": "datum.t"}], "mark": {"type": "text", "style": "lab"}, "encoding": {"x": {"field": "x", "type": "quantitative", "axis": null}, "y": {"field": "y", "type": "quantitative", "axis": {"orient": "right", "values": [10, 20, 30, 40]}}, "text": {"field": "t"}}}
 ], "resolve": {"axis": {"x": "independent", "y": "independent"}}},
 {"width": 272, "height": 304, "transform": [{"filter": "datum.p=='so'&&datum.s==3"}], "layer": [
  {"transform": [{"filter": "datum.c"}], "mark": "line", "encoding": {
   "x": {"field": "x", "type": "quantitative", "scale": {"domain": [1975, 2015], "nice": false}, "axis": {"orient": "bottom", "values": [1990, 2010], "labels": true, "format": "d", "labelPadding": 14}},
   "y": {"field": "y", "type": "quantitative", "scale": {"domain": [0, 45], "nice": false}, "axis": {"orient": "left", "values": [10, 20, 30, 40]}},
   "strokeDash": {"field": "c", "type": "nominal", "scale": {"domain": ["I", "II", "III", "IV"], "range": [[1, 0], [7, 4], [16, 5], [14, 4, 4, 4]]}, "legend": null}}},
  {"transform": [{"filter": "datum.t"}], "mark": {"type": "text", "style": "lab"}, "encoding": {"x": {"field": "x", "type": "quantitative", "axis": null}, "y": {"field": "y", "type": "quantitative", "axis": {"orient": "right", "values": [10, 20, 30, 40]}}, "text": {"field": "t"}}}
 ], "resolve": {"axis": {"x": "independent", "y": "independent"}}},
 {"width": 272, "height": 304, "transform": [{"filter": "datum.p=='hy'&&datum.s==3"}], "layer": [
  {"transform": [{"filter": "datum.c"}], "mark": "line", "encoding": {
   "x": {"field": "x", "type": "quantitative", "scale": {"domain": [1975, 2015], "nice": false}, "axis": {"orient": "bottom", "values": [1990, 2010], "labels": true, "format": "d", "labelPadding": 14}},
   "y": {"field": "y", "type": "quantitative", "scale": {"domain": [0, 45], "nice": false}, "axis": {"orient": "left", "values": [10, 20, 30, 40]}},
   "strokeDash": {"field": "c", "type": "nominal", "scale": {"domain": ["I", "II", "III", "IV"], "range": [[1, 0], [7, 4], [16, 5], [14, 4, 4, 4]]}, "legend": null}}},
  {"transform": [{"filter": "datum.t"}], "mark": {"type": "text", "style": "lab"}, "encoding": {"x": {"field": "x", "type": "quantitative", "axis": null}, "y": {"field": "y", "type": "quantitative", "axis": {"orient": "right", "values": [10, 20, 30, 40]}}, "text": {"field": "t"}}}
 ], "resolve": {"axis": {"x": "independent", "y": "independent"}}}
]}
], "spacing": 28
}
